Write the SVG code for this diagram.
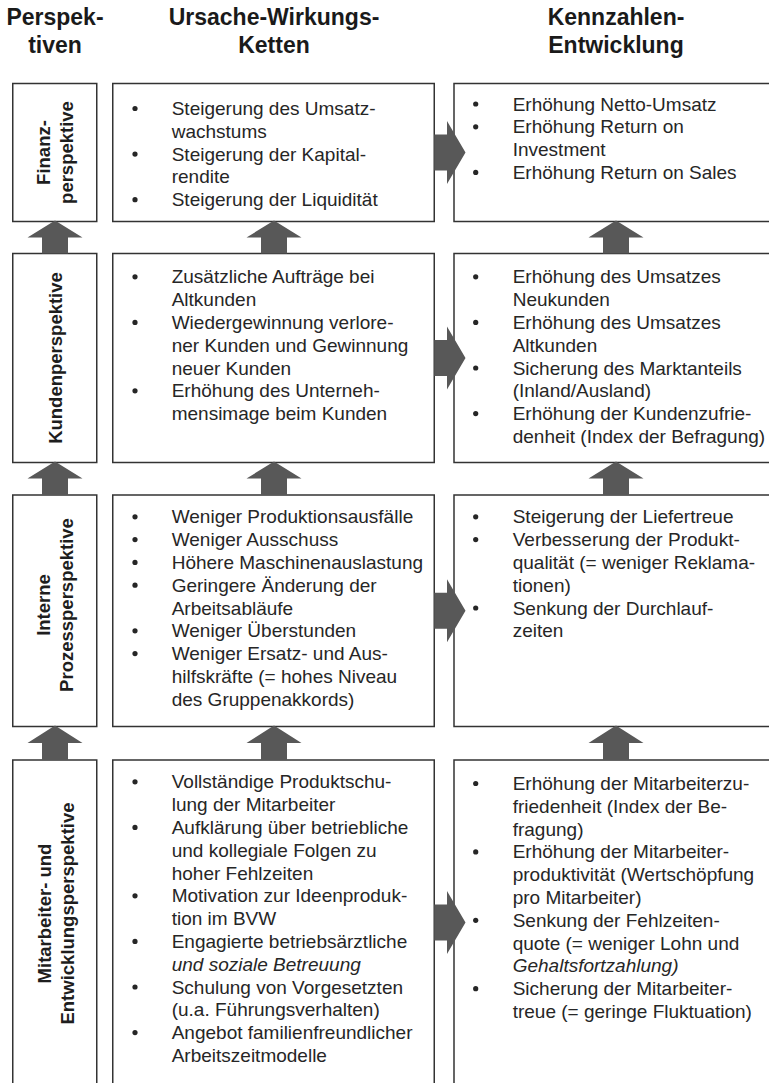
<svg xmlns="http://www.w3.org/2000/svg" xmlns:xlink="http://www.w3.org/1999/xlink" width="769" height="1083" viewBox="0 0 769 1083">
  <style>
    .box { fill: #ffffff; stroke: #333333; stroke-width: 1.5; }
    .head { font-family: "Liberation Sans", Arial, sans-serif; font-weight: bold; font-size: 23px; fill: #1a1a1a; text-anchor: middle; }
    .persp { font-family: "Liberation Sans", Arial, sans-serif; font-weight: bold; font-size: 18.5px; fill: #1e1e1e; text-anchor: middle; }
    .body { font-family: "Liberation Sans", Arial, sans-serif; font-size: 19px; fill: #262626; }
    .it { font-style: italic; }
    .arrow { fill: #585858; }
    .dot { fill: #262626; }
  </style>
  <defs>
    <circle id="dot" class="dot" r="2.6"/>
  </defs>
  <rect width="769" height="1083" fill="#ffffff"/>

  <!-- column headings -->
  <g id="headings">
    <text class="head" x="55" y="25">Perspek-</text>
    <text class="head" x="55" y="53">tiven</text>
    <text class="head" x="274" y="25">Ursache-Wirkungs-</text>
    <text class="head" x="274" y="53">Ketten</text>
    <text class="head" x="616" y="25">Kennzahlen-</text>
    <text class="head" x="616" y="53">Entwicklung</text>
  </g>

  <!-- row 1: financial perspective -->
  <g id="finanz-label">
    <rect class="box" x="12.75" y="83.5" width="84" height="138"/>
    <text class="persp" transform="translate(50,152.5) rotate(-90)">Finanz-</text>
    <text class="persp" transform="translate(72.5,152.5) rotate(-90)">perspektive</text>
  </g>
  <g id="finanz-ketten">
    <rect class="box" x="112.75" y="83.5" width="321.5" height="138"/>
    <use xlink:href="#dot" x="135" y="108.5"/>
    <use xlink:href="#dot" x="135" y="154.1"/>
    <use xlink:href="#dot" x="135" y="199.7"/>
    <text class="body" x="171.7" y="115">Steigerung des Umsatz-</text>
    <text class="body" x="171.7" y="137.8">wachstums</text>
    <text class="body" x="171.7" y="160.6">Steigerung der Kapital-</text>
    <text class="body" x="171.7" y="183.4">rendite</text>
    <text class="body" x="171.7" y="206.2">Steigerung der Liquidität</text>
  </g>
  <g id="finanz-kennzahlen">
    <rect class="box" x="454" y="83.5" width="320" height="138"/>
    <use xlink:href="#dot" x="475.7" y="104"/>
    <use xlink:href="#dot" x="475.7" y="126.8"/>
    <use xlink:href="#dot" x="475.7" y="172.4"/>
    <text class="body" x="512.7" y="110.5">Erhöhung Netto-Umsatz</text>
    <text class="body" x="512.7" y="133.3">Erhöhung Return on</text>
    <text class="body" x="512.7" y="156.1">Investment</text>
    <text class="body" x="512.7" y="178.9">Erhöhung Return on Sales</text>
  </g>

  <!-- row 2: customer perspective -->
  <g id="kunden-label">
    <rect class="box" x="12.75" y="253.5" width="84" height="209"/>
    <text class="persp" transform="translate(62,358) rotate(-90)">Kundenperspektive</text>
  </g>
  <g id="kunden-ketten">
    <rect class="box" x="112.75" y="253.5" width="321.5" height="209"/>
    <use xlink:href="#dot" x="135" y="276.8"/>
    <use xlink:href="#dot" x="135" y="322.4"/>
    <use xlink:href="#dot" x="135" y="390.8"/>
    <text class="body" x="171.7" y="283.3">Zusätzliche Aufträge bei</text>
    <text class="body" x="171.7" y="306.1">Altkunden</text>
    <text class="body" x="171.7" y="328.9">Wiedergewinnung verlore-</text>
    <text class="body" x="171.7" y="351.7">ner Kunden und Gewinnung</text>
    <text class="body" x="171.7" y="374.5">neuer Kunden</text>
    <text class="body" x="171.7" y="397.3">Erhöhung des Unterneh-</text>
    <text class="body" x="171.7" y="420.1">mensimage beim Kunden</text>
  </g>
  <g id="kunden-kennzahlen">
    <rect class="box" x="454" y="253.5" width="320" height="209"/>
    <use xlink:href="#dot" x="475.7" y="276.8"/>
    <use xlink:href="#dot" x="475.7" y="322.4"/>
    <use xlink:href="#dot" x="475.7" y="368"/>
    <use xlink:href="#dot" x="475.7" y="413.6"/>
    <text class="body" x="512.7" y="283.3">Erhöhung des Umsatzes</text>
    <text class="body" x="512.7" y="306.1">Neukunden</text>
    <text class="body" x="512.7" y="328.9">Erhöhung des Umsatzes</text>
    <text class="body" x="512.7" y="351.7">Altkunden</text>
    <text class="body" x="512.7" y="374.5">Sicherung des Marktanteils</text>
    <text class="body" x="512.7" y="397.3">(Inland/Ausland)</text>
    <text class="body" x="512.7" y="420.1">Erhöhung der Kundenzufrie-</text>
    <text class="body" x="512.7" y="442.9">denheit (Index der Befragung)</text>
  </g>

  <!-- row 3: internal process perspective -->
  <g id="prozess-label">
    <rect class="box" x="12.75" y="495" width="84" height="231.5"/>
    <text class="persp" transform="translate(50,605) rotate(-90)">Interne</text>
    <text class="persp" transform="translate(72.5,605) rotate(-90)">Prozessperspektive</text>
  </g>
  <g id="prozess-ketten">
    <rect class="box" x="112.75" y="495" width="321.5" height="231.5"/>
    <use xlink:href="#dot" x="135" y="516.8"/>
    <use xlink:href="#dot" x="135" y="539.6"/>
    <use xlink:href="#dot" x="135" y="562.4"/>
    <use xlink:href="#dot" x="135" y="585.2"/>
    <use xlink:href="#dot" x="135" y="630.8"/>
    <use xlink:href="#dot" x="135" y="653.6"/>
    <text class="body" x="171.7" y="523.3">Weniger Produktionsausfälle</text>
    <text class="body" x="171.7" y="546.1">Weniger Ausschuss</text>
    <text class="body" x="171.7" y="568.9">Höhere Maschinenauslastung</text>
    <text class="body" x="171.7" y="591.7">Geringere Änderung der</text>
    <text class="body" x="171.7" y="614.5">Arbeitsabläufe</text>
    <text class="body" x="171.7" y="637.3">Weniger Überstunden</text>
    <text class="body" x="171.7" y="660.1">Weniger Ersatz- und Aus-</text>
    <text class="body" x="171.7" y="682.9">hilfskräfte (= hohes Niveau</text>
    <text class="body" x="171.7" y="705.7">des Gruppenakkords)</text>
  </g>
  <g id="prozess-kennzahlen">
    <rect class="box" x="454" y="495" width="320" height="231.5"/>
    <use xlink:href="#dot" x="475.7" y="516.8"/>
    <use xlink:href="#dot" x="475.7" y="539.6"/>
    <use xlink:href="#dot" x="475.7" y="608"/>
    <text class="body" x="512.7" y="523.3">Steigerung der Liefertreue</text>
    <text class="body" x="512.7" y="546.1">Verbesserung der Produkt-</text>
    <text class="body" x="512.7" y="568.9">qualität (= weniger Reklama-</text>
    <text class="body" x="512.7" y="591.7">tionen)</text>
    <text class="body" x="512.7" y="614.5">Senkung der Durchlauf-</text>
    <text class="body" x="512.7" y="637.3">zeiten</text>
  </g>

  <!-- row 4: staff and development perspective (open at the bottom) -->
  <g id="mitarbeiter-label">
    <path class="box" d="M12.75,1090 V760 H96.75 V1090"/>
    <text class="persp" transform="translate(51,913.5) rotate(-90)">Mitarbeiter- und</text>
    <text class="persp" transform="translate(73.5,913.5) rotate(-90)">Entwicklungsperspektive</text>
  </g>
  <g id="mitarbeiter-ketten">
    <path class="box" d="M112.75,1090 V760 H434.25 V1090"/>
    <use xlink:href="#dot" x="135" y="781.8"/>
    <use xlink:href="#dot" x="135" y="827.4"/>
    <use xlink:href="#dot" x="135" y="895.8"/>
    <use xlink:href="#dot" x="135" y="941.4"/>
    <use xlink:href="#dot" x="135" y="987"/>
    <use xlink:href="#dot" x="135" y="1032.6"/>
    <text class="body" x="171.7" y="788.3">Vollständige Produktschu-</text>
    <text class="body" x="171.7" y="811.1">lung der Mitarbeiter</text>
    <text class="body" x="171.7" y="833.9">Aufklärung über betriebliche</text>
    <text class="body" x="171.7" y="856.7">und kollegiale Folgen zu</text>
    <text class="body" x="171.7" y="879.5">hoher Fehlzeiten</text>
    <text class="body" x="171.7" y="902.3">Motivation zur Ideenproduk-</text>
    <text class="body" x="171.7" y="925.1">tion im BVW</text>
    <text class="body" x="171.7" y="947.9">Engagierte betriebsärztliche</text>
    <text class="body it" x="171.7" y="970.7">und soziale Betreuung</text>
    <text class="body" x="171.7" y="993.5">Schulung von Vorgesetzten</text>
    <text class="body" x="171.7" y="1016.3">(u.a. Führungsverhalten)</text>
    <text class="body" x="171.7" y="1039.1">Angebot familienfreundlicher</text>
    <text class="body" x="171.7" y="1061.9">Arbeitszeitmodelle</text>
  </g>
  <g id="mitarbeiter-kennzahlen">
    <path class="box" d="M454,1090 V760 H774"/>
    <use xlink:href="#dot" x="475.7" y="783.5"/>
    <use xlink:href="#dot" x="475.7" y="851.9"/>
    <use xlink:href="#dot" x="475.7" y="920.3"/>
    <use xlink:href="#dot" x="475.7" y="988.7"/>
    <text class="body" x="512.7" y="790">Erhöhung der Mitarbeiterzu-</text>
    <text class="body" x="512.7" y="812.8">friedenheit (Index der Be-</text>
    <text class="body" x="512.7" y="835.6">fragung)</text>
    <text class="body" x="512.7" y="858.4">Erhöhung der Mitarbeiter-</text>
    <text class="body" x="512.7" y="881.2">produktivität (Wertschöpfung</text>
    <text class="body" x="512.7" y="904">pro Mitarbeiter)</text>
    <text class="body" x="512.7" y="926.8">Senkung der Fehlzeiten-</text>
    <text class="body" x="512.7" y="949.6">quote (= weniger Lohn und</text>
    <text class="body it" x="512.7" y="972.4">Gehaltsfortzahlung)</text>
    <text class="body" x="512.7" y="995.2">Sicherung der Mitarbeiter-</text>
    <text class="body" x="512.7" y="1018">treue (= geringe Fluktuation)</text>
  </g>

  <!-- block arrows: upward between rows, rightward into the key figures -->
  <g id="connectors" class="arrow">
    <!-- row 2 -> row 1 -->
    <path d="M55,220.5 L82.5,237.5 L68,237.5 L68,253.5 L42,253.5 L42,237.5 L27.5,237.5 Z"/>
    <path d="M274,220.5 L301.5,237.5 L287,237.5 L287,253.5 L261,253.5 L261,237.5 L246.5,237.5 Z"/>
    <path d="M616,220.5 L643.5,237.5 L629,237.5 L629,253.5 L603,253.5 L603,237.5 L588.5,237.5 Z"/>
    <!-- row 3 -> row 2 -->
    <path d="M55,461.5 L82.5,478.5 L68,478.5 L68,495 L42,495 L42,478.5 L27.5,478.5 Z"/>
    <path d="M274,461.5 L301.5,478.5 L287,478.5 L287,495 L261,495 L261,478.5 L246.5,478.5 Z"/>
    <path d="M616,461.5 L643.5,478.5 L629,478.5 L629,495 L603,495 L603,478.5 L588.5,478.5 Z"/>
    <!-- row 4 -> row 3 -->
    <path d="M55,725.5 L82.5,743 L68,743 L68,760 L42,760 L42,743 L27.5,743 Z"/>
    <path d="M274,725.5 L301.5,743 L287,743 L287,760 L261,760 L261,743 L246.5,743 Z"/>
    <path d="M616,725.5 L643.5,743 L629,743 L629,760 L603,760 L603,743 L588.5,743 Z"/>
    <!-- cause-effect chains -> key figures -->
    <path d="M434.25,134.5 H447 V121 L465.5,152.5 L447,184 V170.5 H434.25 Z"/>
    <path d="M434.25,340 H447 V326.5 L465.5,358 L447,389.5 V376 H434.25 Z"/>
    <path d="M434.25,592.75 H447 V579.25 L465.5,610.75 L447,642.25 V628.75 H434.25 Z"/>
    <path d="M434.25,904.5 H447 V891 L465.5,922.5 L447,954 V940.5 H434.25 Z"/>
  </g>
</svg>
